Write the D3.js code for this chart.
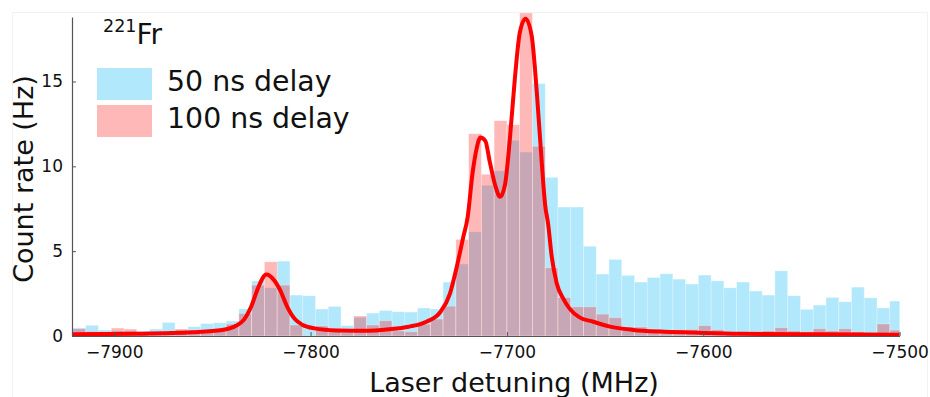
<!DOCTYPE html>
<html>
<head>
<meta charset="utf-8">
<script src="https://cdn.jsdelivr.net/npm/d3@7"></script>
<style>
  body { margin: 0; background: #fff; }
  svg { display: block; font-family: "DejaVu Sans", sans-serif; }
</style>
</head>
<body>
<svg id="chart" width="930" height="397"></svg>
<script>
// histogram bins: left edge of first bin and bin width (MHz)
const binStart = -7921;
const binWidth = 6.5;

// count rate (Hz) per bin, 50 ns delay
const rate50 = [
  0.47, 0.63, 0.35, 0.30, 0.30, 0.29, 0.41, 0.80, 0.37, 0.55,
  0.73, 0.78, 0.88, 1.60, 3.25, 2.84, 4.41, 2.41, 2.37, 1.59,
  1.74, 0.61, 1.10, 1.35, 1.50, 1.43, 1.41, 1.65, 1.59, 3.18,
  4.24, 6.14, 8.88, 9.73, 11.53, 10.84, 14.88, 9.35, 7.60, 7.60,
  5.29, 3.65, 4.51, 3.57, 3.18, 3.45, 3.67, 3.35, 3.06, 3.59,
  3.25, 2.84, 3.18, 2.65, 2.41, 3.84, 2.37, 1.57, 1.82, 2.27,
  2.02, 2.88, 2.25, 1.65, 2.06
];

// count rate (Hz) per bin, 100 ns delay
const rate100 = [
  0.43, 0.27, 0.10, 0.47, 0.41, 0.20, 0.20, 0.20, 0.41, 0.35,
  0.35, 0.35, 0.70, 1.33, 3.00, 4.37, 3.00, 0.65, 0.02, 0.59,
  0.45, 0.20, 1.18, 0.65, 0.90, 0.30, 0.25, 0.70, 1.00, 1.76,
  5.69, 11.92, 9.53, 12.69, 12.45, 19.04, 11.18, 4.02, 2.27, 1.72,
  1.72, 1.29, 1.08, 0.53, 0.53, 0.41, 0.31, 0.37, 0.39, 0.61,
  0.37, 0.20, 0.20, 0.25, 0.30, 0.49, 0.30, 0.25, 0.43, 0.30,
  0.43, 0.25, 0.15, 0.71, 0.35
];

// fitted curve, points
const fitX = [
  -7921, -7890, -7860, -7845, -7838, -7834, -7830, -7826.5, -7822.5, -7819,
  -7815.5, -7812, -7808, -7804, -7798, -7787, -7773, -7760, -7750, -7741,
  -7734, -7729, -7725.5, -7722.2, -7720, -7717.5, -7715.5, -7713.5, -7711, -7708.7,
  -7706, -7703.5, -7701, -7698.5, -7696, -7693.4, -7690.5, -7687.4, -7684.8, -7682.3,
  -7680.5, -7679, -7677.2, -7674.6, -7671.3, -7668, -7663, -7656, -7647.5, -7635.6,
  -7622, -7605, -7581, -7540, -7500
];
const fitY = [
  0.10, 0.13, 0.22, 0.35, 0.60, 0.95, 1.80, 2.90, 3.63, 3.35,
  2.70, 1.75, 1.00, 0.65, 0.45, 0.33, 0.31, 0.40, 0.55, 0.84,
  1.40, 2.50, 4.10, 5.84, 7.00, 9.60, 11.00, 11.70, 11.50, 10.25,
  8.90, 8.20, 8.90, 11.60, 15.10, 17.90, 18.70, 17.70, 14.40, 10.30,
  7.70, 6.60, 4.70, 3.10, 2.20, 1.60, 1.10, 0.84, 0.55, 0.36,
  0.26, 0.20, 0.13, 0.10, 0.08
];

const xTicks = [-7900, -7800, -7700, -7600, -7500];
const yTicks = [0, 5, 10, 15];

const svg = d3.select("#chart");

// faint frame of the original image
svg.append("rect")
  .attr("x", 12.5).attr("y", 12.5).attr("width", 915).attr("height", 400)
  .attr("fill", "none").attr("stroke", "#f2f2f2");

const plotLeft = 72, plotRight = 899.6, plotTop = 17, plotBottom = 336;
const x = d3.scaleLinear().domain([-7921.5, -7500]).range([plotLeft, plotRight]);
const y = d3.scaleLinear().domain([0, 18.8]).range([plotBottom, plotTop]);

svg.append("clipPath").attr("id", "plotclip")
  .append("rect")
  .attr("x", plotLeft).attr("y", 10)
  .attr("width", plotRight - plotLeft).attr("height", plotBottom - 10);

const plot = svg.append("g").attr("clip-path", "url(#plotclip)");

function drawBars(values, color, opacity) {
  plot.append("g").selectAll("rect")
    .data(values)
    .enter().append("rect")
    .attr("x", (d, i) => x(binStart + i * binWidth))
    .attr("width", x(binStart + binWidth) - x(binStart))
    .attr("y", d => y(d))
    .attr("height", d => y(0) - y(d))
    .attr("fill", color)
    .attr("fill-opacity", opacity)
    .attr("stroke", "#fff")
    .attr("stroke-opacity", 0.35)
    .attr("stroke-width", 0.8);
}

drawBars(rate50, "rgb(0,178,245)", 0.3);
drawBars(rate100, "rgb(255,0,0)", 0.28);

// fit line
const fitPts = fitX.map((v, i) => [v, fitY[i]]);
plot.append("path")
  .datum(fitPts)
  .attr("fill", "none")
  .attr("stroke", "#ff0000")
  .attr("stroke-width", 4)
  .attr("stroke-linejoin", "round")
  .attr("d", d3.line().x(d => x(d[0])).y(d => y(d[1])).curve(d3.curveMonotoneX));

// axes
const xAxis = svg.append("g")
  .attr("transform", `translate(0,${plotBottom})`)
  .call(d3.axisBottom(x).tickValues(xTicks).tickFormat(d3.format("d"))
    .tickSizeInner(-4).tickSizeOuter(0).tickPadding(10));

const yAxis = svg.append("g")
  .attr("transform", `translate(${plotLeft},0)`)
  .call(d3.axisLeft(y).tickValues(yTicks).tickFormat(d3.format("d"))
    .tickSizeInner(-4).tickSizeOuter(0).tickPadding(9));

[xAxis, yAxis].forEach(a => {
  a.select(".domain").attr("stroke", "#555").attr("stroke-width", 1.2);
  a.selectAll(".tick line").attr("stroke", "#555");
  a.selectAll(".tick text")
    .attr("font-family", "DejaVu Sans, sans-serif")
    .attr("font-size", 17)
    .attr("fill", "#111");
});

// axis titles
svg.append("text")
  .attr("x", 514).attr("y", 392)
  .attr("text-anchor", "middle")
  .attr("font-size", 27)
  .attr("fill", "#111")
  .text("Laser detuning (MHz)");

svg.append("text")
  .attr("transform", "translate(33,179) rotate(-90)")
  .attr("text-anchor", "middle")
  .attr("font-size", 27)
  .attr("fill", "#111")
  .text("Count rate (Hz)");

// isotope label
const iso = svg.append("text").attr("x", 103).attr("y", 44).attr("fill", "#111");
iso.append("tspan").attr("font-size", 17.5).attr("dy", -12).text("221");
iso.append("tspan").attr("font-size", 28).attr("dy", 12).text("Fr");

// legend
const legendItems = [
  { label: "50 ns delay", color: "rgb(0,178,245)", opacity: 0.3 },
  { label: "100 ns delay", color: "rgb(255,0,0)", opacity: 0.28 }
];
const legend = svg.append("g");
legendItems.forEach((item, i) => {
  const gy = 68 + i * 37;
  legend.append("rect")
    .attr("x", 97).attr("y", gy).attr("width", 55).attr("height", 32)
    .attr("fill", item.color).attr("fill-opacity", item.opacity);
  legend.append("text")
    .attr("x", 167).attr("y", gy + 23)
    .attr("font-size", 28.4)
    .attr("fill", "#111")
    .text(item.label);
});
</script>
</body>
</html>
